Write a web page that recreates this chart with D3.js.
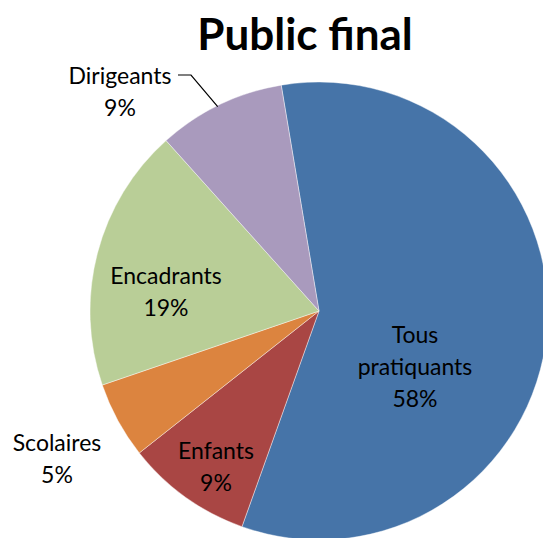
<!DOCTYPE html>
<html lang="fr">
<head>
<meta charset="UTF-8">
<title>Public final</title>
<script src="https://cdnjs.cloudflare.com/ajax/libs/d3/7.8.5/d3.min.js"></script>
<style>
  html, body { margin: 0; padding: 0; background: #fff; }
  svg { display: block; font-family: Lato, 'Open Sans', sans-serif; }
</style>
</head>
<body>
<svg id="chart" width="543" height="538"></svg>
<script>
// data (clockwise, starting just left of 12 o'clock)
const categories = ["Tous pratiquants", "Enfants", "Scolaires", "Encadrants", "Dirigeants"];
const values = [58.1, 8.9, 5.4, 18.6, 9.0];
const colors = ["#4674A8", "#A94644", "#DC843F", "#B9CE97", "#A99ABD"];
const title = "Public final";

const width = 543, height = 538;
const cx = 319, cy = 311, R = 229;
const startDeg = -9.5;

// label positions relative to pie centre (text block centre)
const labelOffsets = {
  "Tous pratiquants": [96, 56],
  "Enfants": [-103, 156],
  "Scolaires": [-262, 148],
  "Encadrants": [-153, -19],
  "Dirigeants": [-199, -219]
};

const svg = d3.select("#chart");

svg.append("text")
  .attr("x", 305).attr("y", 50)
  .attr("text-anchor", "middle")
  .attr("font-size", 44).attr("font-weight", 700)
  .attr("fill", "#000")
  .text(title);

const data = categories.map((c, i) => ({ name: c, value: values[i], color: colors[i] }));
const total = d3.sum(values);

const pie = d3.pie().sort(null).value(d => d.value)
  .startAngle(startDeg * Math.PI / 180)
  .endAngle((startDeg + 360) * Math.PI / 180);
const arc = d3.arc().innerRadius(0).outerRadius(R);

const g = svg.append("g").attr("transform", `translate(${cx},${cy})`);
const arcs = pie(data);

g.selectAll("path").data(arcs).enter().append("path")
  .attr("d", arc)
  .attr("fill", d => d.data.color)
  .attr("stroke", "#fff")
  .attr("stroke-width", 0.7)
  .attr("stroke-opacity", 0.6);

// leader line for Dirigeants
const dir = arcs[4];
const mid = (dir.startAngle + dir.endAngle) / 2;
const px = Math.sin(mid) * R, py = -Math.cos(mid) * R;
const off = labelOffsets["Dirigeants"];
g.append("polyline")
  .attr("points", [[off[0] + 58, off[1] - 17], [off[0] + 71, off[1] - 17], [px - 2, py + 2]].map(p => p.join(",")).join(" "))
  .attr("fill", "none").attr("stroke", "#000").attr("stroke-width", 1.2);

const lineH = 32;
arcs.forEach(a => {
  const name = a.data.name;
  const pct = Math.round(a.data.value / total * 100) + "%";
  const lines = name === "Tous pratiquants" ? ["Tous", "pratiquants", pct] : [name, pct];
  const o = labelOffsets[name];
  const t = g.append("text")
    .attr("text-anchor", "middle")
    .attr("font-size", 23)
    .attr("fill", "#000");
  const y0 = o[1] - (lines.length - 1) * lineH / 2 + 8;
  lines.forEach((l, i) => {
    t.append("tspan").attr("x", o[0]).attr("y", y0 + i * lineH).text(l);
  });
});
</script>
</body>
</html>
